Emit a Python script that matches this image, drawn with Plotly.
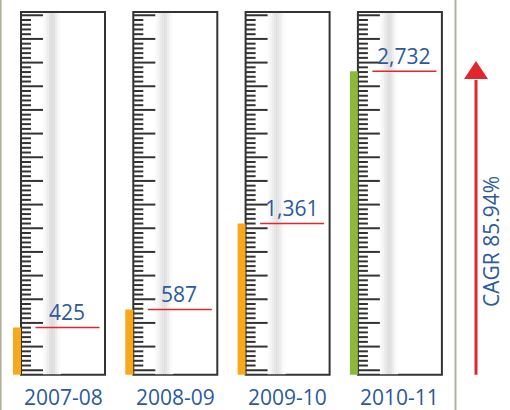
import plotly.graph_objects as go

# Data
years = ["2007-08", "2008-09", "2009-10", "2010-11"]
values = [425, 587, 1361, 2732]
bar_colors = ["#f7a81b", "#f7a81b", "#f7a81b", "#8cb83c"]
value_labels = ["425", "587", "1,361", "2,732"]
cagr_label = "CAGR 85.94%"

W, H = 510, 410
PX_PER_COL = 112.3          # pixel spacing between columns
COL0_PX = 63                # pixel centre of first column
Y_PER_PX = 9.0              # data units per pixel
BASE_PX = 374.7             # pixel row of the zero line
SCALE_TOP = 3264            # top of each gauge in data units

def xu(px):   # horizontal pixels -> x data units
    return px / PX_PER_COL

def yu(px):   # vertical pixels -> y data units
    return px * Y_PER_PX

x_range = [(0 - COL0_PX) / PX_PER_COL, (W - COL0_PX) / PX_PER_COL]
y_range = [-(H - BASE_PX) * Y_PER_PX, BASE_PX * Y_PER_PX]

half = xu(42)
text_blue = "#2b5a9c"
red = "#e0262f"
frame = "#333333"

fig = go.Figure()
shapes = []
annotations = []

# thin olive rules at the far left and right
for px in (0.8, 455.5):
    shapes.append(dict(type="line", xref="x", yref="paper",
                       x0=x_range[0] + xu(px), x1=x_range[0] + xu(px), y0=0, y1=1,
                       line=dict(color="#b3b199", width=2 if px > 1 else 1.6)))

# gradient stripe profile inside each gauge (offset px, grey level)
stripe = [(22, 250), (24, 244), (26, 236), (28, 228), (30, 222), (32, 226),
          (34, 236), (36, 246), (38, 252)]

for i, (v, c) in enumerate(zip(values, bar_colors)):
    left = i - half
    right = i + half
    # gauge frame
    shapes.append(dict(type="rect", x0=left, x1=right, y0=0, y1=SCALE_TOP,
                       line=dict(color=frame, width=2), fillcolor="white", layer="below"))
    # soft shading stripe
    for off, g in stripe:
        shapes.append(dict(type="rect", x0=left + xu(off), x1=left + xu(off + 2),
                           y0=yu(0.5), y1=SCALE_TOP - yu(1),
                           line=dict(width=0), fillcolor=f"rgb({g},{g},{g})", layer="below"))
    # ruler ticks
    tx, ty = [], []
    k = 0
    while True:
        yv = 40 + k * 42.6
        if yv > SCALE_TOP - 20:
            break
        length = 22 if k % 5 == 0 else 10
        tx += [left, left + xu(length), None]
        ty += [yv, yv, None]
        k += 1
    fig.add_trace(go.Scatter(x=tx, y=ty, mode="lines",
                             line=dict(color=frame, width=2),
                             hoverinfo="skip", showlegend=False))
    # value bar, just left of the gauge
    fig.add_trace(go.Bar(x=[left - xu(4)], y=[v], width=[xu(8)], base=0,
                         marker=dict(color=c, line=dict(width=0)),
                         showlegend=False, hoverinfo="skip"))
    # red marker line at the value
    fig.add_trace(go.Scatter(x=[left + xu(14.5), left + xu(78.5)], y=[v, v], mode="lines",
                             line=dict(color=red, width=1.5),
                             hoverinfo="skip", showlegend=False))
    annotations.append(dict(x=left + xu(46), y=v, text=value_labels[i], showarrow=False,
                            yanchor="bottom", yshift=-1,
                            font=dict(family="Open Sans", size=21, color=text_blue)))
    annotations.append(dict(x=i, y=-yu(22.5), text=years[i], showarrow=False,
                            yanchor="middle",
                            font=dict(family="Open Sans", size=21, color=text_blue)))

# growth arrow
ax = x_range[0] + xu(476)
shapes.append(dict(type="line", x0=ax, x1=ax, y0=0, y1=yu(BASE_PX - 80),
                   line=dict(color=red, width=3)))
tip = yu(BASE_PX - 61)
base = yu(BASE_PX - 79)
shapes.append(dict(type="path",
                   path=f"M {ax - xu(12)} {base} L {ax + xu(12)} {base} L {ax} {tip} Z",
                   fillcolor=red, line=dict(color=red, width=0)))
annotations.append(dict(x=x_range[0] + xu(491), y=yu(BASE_PX - 242), text=cagr_label,
                        showarrow=False, textangle=-90,
                        font=dict(family="Open Sans", size=21, color=text_blue)))

fig.update_layout(
    width=W, height=H, margin=dict(l=0, r=0, t=0, b=0),
    paper_bgcolor="white", plot_bgcolor="white",
    xaxis=dict(range=x_range, visible=False, fixedrange=True),
    yaxis=dict(range=y_range, visible=False, fixedrange=True),
    shapes=shapes, annotations=annotations, barmode="overlay",
)

fig.write_html("out.html")
